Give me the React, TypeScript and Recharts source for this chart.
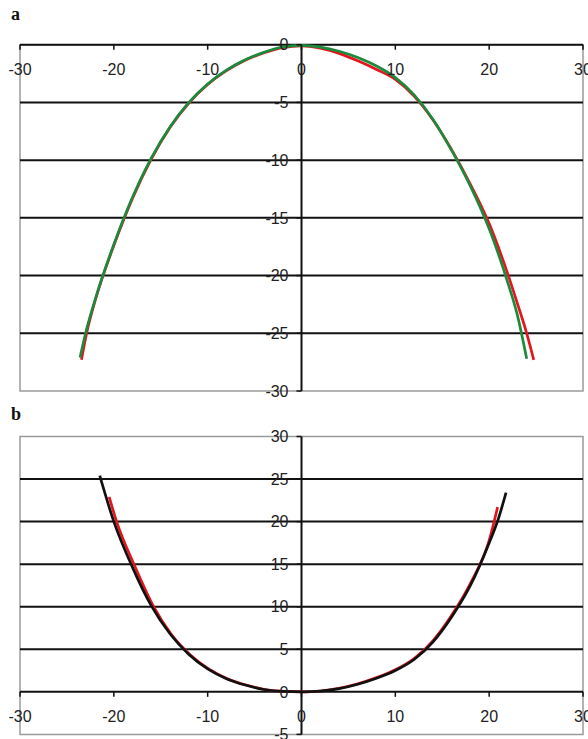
import React from "react";
import { ComposedChart, Line, Scatter, XAxis, YAxis, ReferenceLine, ReferenceArea } from "recharts";

// shared x axis
const xTicks = [-30, -20, -10, 0, 10, 20, 30];

// panel a
const yTicksA = [0, -5, -10, -15, -20, -25, -30];
const gridA = [-5, -10, -15, -20, -25];
const redAX = [-23.45, -22.9, -22, -20, -18, -16, -14, -12, -10, -8, -6, -4, -2, 0, 2, 4, 6, 8, 10, 12, 14, 16, 18, 20, 22, 23, 24, 24.75];
const redAY = [-27.3, -25.0, -22.2, -17.4, -13.3, -9.9, -7.15, -5.05, -3.45, -2.25, -1.35, -0.7, -0.25, -0.1, -0.3, -0.75, -1.4, -2.15, -3.0, -4.45, -6.5, -9.1, -12.1, -15.5, -19.9, -22.4, -25.0, -27.3];
const greenAX = [-23.6, -23, -22, -20, -18, -16, -14, -12, -10, -8, -6, -4, -2, 0, 2, 4, 6, 8, 10, 12, 14, 16, 18, 20, 22, 23, 24];
const greenAY = [-27.1, -24.95, -22.1, -17.3, -13.2, -9.8, -7.1, -5.0, -3.4, -2.2, -1.3, -0.65, -0.2, -0.05, -0.21, -0.57, -1.11, -1.85, -2.85, -4.35, -6.45, -9.15, -12.25, -15.95, -20.65, -23.4, -27.2];

// panel b
const yTicksB = [30, 25, 20, 15, 10, 5, 0, -5];
const gridB = [25, 20, 15, 10, 5];
const redBX = [-20.5, -19.7, -17.7, -15.8, -13.9, -11.9, -9.9, -7.9, -5.9, -3.9, -1.9, 0.4, 2, 4, 6, 8, 10, 12, 14, 16, 18, 20, 20.9];
const redBY = [22.9, 20.0, 14.6, 10.1, 6.8, 4.4, 2.7, 1.55, 0.8, 0.28, 0.05, 0, 0.1, 0.42, 0.95, 1.68, 2.6, 3.92, 6.0, 9.0, 12.75, 17.8, 21.7];
const blackBX = [-21.5, -20, -18, -16, -14, -12, -10, -8, -6, -4, -2, 0, 2, 4, 6, 8, 10, 12, 14, 16, 18, 20, 21, 21.8];
const blackBY = [25.4, 20.0, 14.6, 10.1, 6.8, 4.4, 2.7, 1.55, 0.8, 0.28, 0.05, 0, 0.08, 0.38, 0.9, 1.6, 2.5, 3.8, 5.85, 8.8, 12.5, 17.5, 20.4, 23.4];

const zip = (xs: number[], ys: number[]) => xs.map((x, i) => ({ x, y: ys[i] }));

const FONT = "'Liberation Sans', Arial, sans-serif";
const INK = "#111";

const XTick = (props: any) => {
  const { cx, cy, payload } = props;
  return (
    <g>
      <line x1={cx} y1={cy} x2={cx} y2={cy + 5} stroke={INK} strokeWidth={1.5} />
      <text x={cx} y={cy + 30} textAnchor="middle" fontSize={16} fontFamily={FONT} fill="#222">
        {String(payload.x)}
      </text>
    </g>
  );
};

const YTick = (props: any) => {
  const { cx, cy, payload } = props;
  return (
    <g>
      <line x1={cx - 5} y1={cy} x2={cx} y2={cy} stroke={INK} strokeWidth={1.5} />
      <text x={cx - 13} y={cy} dy="0.36em" textAnchor="end" fontSize={16} fontFamily={FONT} fill="#222">
        {String(payload.y)}
      </text>
    </g>
  );
};

type PanelProps = {
  top: number;
  height: number;
  margin: { top: number; right: number; bottom: number; left: number };
  yDomain: [number, number];
  yTicks: number[];
  grid: number[];
  series: { data: { x: number; y: number }[]; color: string }[];
};

function Panel({ top, height, margin, yDomain, yTicks, grid, series }: PanelProps) {
  return (
    <div style={{ position: "absolute", left: 0, top, width: 588, height }}>
      <ComposedChart width={588} height={height} margin={margin}>
        <XAxis type="number" dataKey="x" domain={[-30, 30]} ticks={xTicks} hide />
        <YAxis type="number" dataKey="y" domain={yDomain} ticks={yTicks} hide />
        <ReferenceArea x1={-30} x2={30} y1={yDomain[0]} y2={yDomain[1]} fill="#fff" fillOpacity={0} stroke="#9a9a9a" strokeWidth={1.5} />
        {grid.map((g) => (
          <ReferenceLine key={g} y={g} stroke={INK} strokeWidth={2} />
        ))}
        <ReferenceLine y={0} stroke={INK} strokeWidth={2} />
        <ReferenceLine x={0} stroke={INK} strokeWidth={2} />
        {series.map((s, i) => (
          <Line
            key={i}
            data={s.data}
            dataKey="y"
            type="monotone"
            stroke={s.color}
            strokeWidth={2.7}
            dot={false}
            activeDot={false}
            isAnimationActive={false}
          />
        ))}
        <Scatter data={xTicks.map((x) => ({ x, y: 0 }))} dataKey="y" shape={XTick} isAnimationActive={false} />
        <Scatter data={yTicks.map((y) => ({ x: 0, y }))} dataKey="y" shape={YTick} isAnimationActive={false} />
      </ComposedChart>
    </div>
  );
}

export default function App() {
  const labelStyle: React.CSSProperties = {
    position: "absolute",
    left: 11,
    fontFamily: "'Liberation Serif', 'Times New Roman', serif",
    fontWeight: "bold",
    fontSize: 18,
    lineHeight: "18px",
    color: "#111",
  };
  return (
    <div style={{ position: "absolute", left: 0, top: 0, width: 588, height: 739, background: "#fff", overflow: "hidden" }}>
      <div style={{ ...labelStyle, top: 5 }}>a</div>
      <div style={{ ...labelStyle, top: 405 }}>b</div>
      <Panel
        top={0}
        height={400}
        margin={{ top: 44.7, right: 5, bottom: 9, left: 20 }}
        yDomain={[-30, 0]}
        yTicks={yTicksA}
        grid={gridA}
        series={[
          { data: zip(redAX, redAY), color: "#e3161c" },
          { data: zip(greenAX, greenAY), color: "#1b8a3c" },
        ]}
      />
      <Panel
        top={400}
        height={339}
        margin={{ top: 36.5, right: 5, bottom: 4.6, left: 20 }}
        yDomain={[-5, 30]}
        yTicks={yTicksB}
        grid={gridB}
        series={[
          { data: zip(redBX, redBY), color: "#e3161c" },
          { data: zip(blackBX, blackBY), color: "#111" },
        ]}
      />
    </div>
  );
}
